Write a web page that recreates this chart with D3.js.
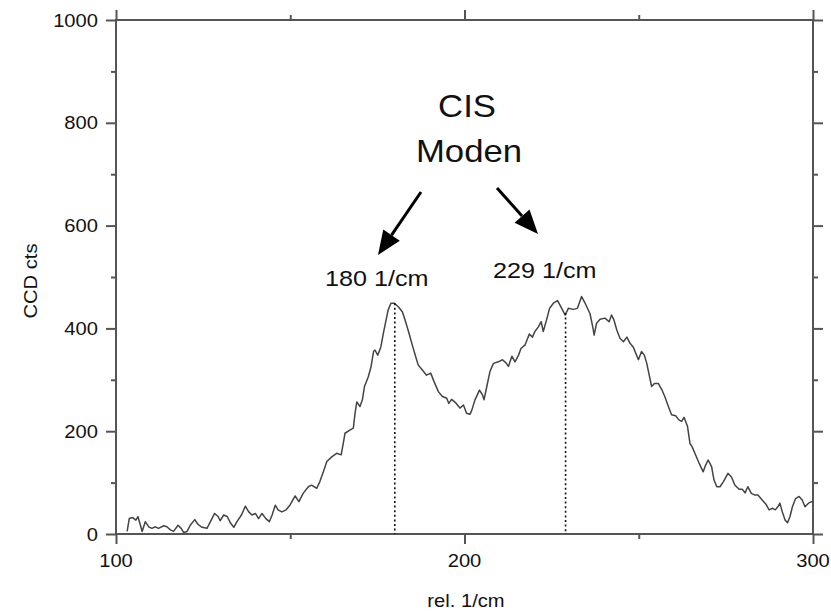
<!DOCTYPE html>
<html>
<head>
<meta charset="utf-8">
<script src="https://cdn.jsdelivr.net/npm/d3@7"></script>
<style>
  html, body { margin: 0; padding: 0; background: #fff; }
  svg { display: block; font-family: "Liberation Sans", Arial, sans-serif; }
</style>
</head>
<body>
<svg id="chart" width="831" height="613"></svg>
<script>
// raman shift (rel. 1/cm) and CCD counts
var shifts = [
  103.2, 103.8, 104.8, 105.7, 106.3, 107.0, 107.5, 108.4, 109.4, 110.3,
  111.3, 112.2, 113.7, 114.6, 115.6, 116.5, 117.8, 118.7, 119.4, 120.4,
  121.3, 122.6, 123.5, 124.7, 126.1, 127.1, 128.3, 129.3, 129.9, 130.9,
  131.9, 132.8, 133.8, 134.7, 136.0, 137.1, 138.1, 139.0, 140.0, 140.9,
  141.9, 143.0, 144.0, 144.8, 145.7, 146.5, 147.6, 148.8, 149.9, 151.4,
  152.5, 153.7, 155.2, 156.1, 157.6, 158.5, 159.5, 160.5, 161.9, 163.3,
  164.6, 165.2, 165.7, 167.1, 168.1, 168.6, 169.1, 170.0, 170.7, 171.3,
  172.4, 173.2, 173.9, 174.3, 175.1, 176.0, 176.7, 177.4, 178.1, 178.9,
  179.9, 181.0, 182.2, 183.1, 184.1, 185.0, 186.0, 186.7, 187.9, 189.1,
  190.3, 191.3, 192.5, 193.6, 194.9, 195.5, 196.3, 197.5, 198.7, 199.7,
  200.6, 201.6, 202.1, 203.0, 204.3, 205.2, 205.6, 206.4, 207.3, 208.3,
  209.7, 210.9, 211.9, 212.6, 213.6, 214.5, 215.5, 216.2, 217.4, 218.6,
  219.5, 220.2, 221.2, 222.0, 222.6, 223.8, 224.4, 225.5, 226.7, 227.9,
  228.9, 229.8, 231.2, 232.4, 233.6, 234.6, 236.0, 236.8, 237.2, 237.9,
  238.9, 240.3, 241.5, 242.2, 242.9, 243.7, 244.6, 245.6, 246.6, 247.5,
  248.4, 249.9, 250.8, 251.6, 252.3, 253.0, 253.7, 254.5, 255.6, 256.6,
  257.5, 258.5, 259.4, 260.6, 261.5, 262.3, 263.0, 264.0, 264.7, 265.3,
  266.1, 267.3, 268.5, 269.0, 269.9, 270.9, 271.6, 272.4, 273.3, 274.3,
  275.6, 276.6, 277.6, 278.8, 279.7, 280.5, 281.3, 282.3, 283.2, 284.2,
  285.3, 286.5, 287.4, 288.4, 289.2, 289.9, 290.5, 291.2, 292.0, 292.7,
  293.4, 294.1, 295.0, 296.0, 296.9, 297.7, 298.7, 299.6, 300.0
];
var counts = [
  5, 30, 32, 27, 34, 17, 5, 24, 14, 11,
  14, 11, 16, 14, 8, 5, 17, 11, 3, 5,
  17, 28, 19, 13, 11, 24, 40, 34, 26, 37,
  34, 22, 13, 24, 37, 54, 43, 37, 40, 30,
  40, 30, 24, 37, 56, 47, 43, 47, 56, 74,
  63, 79, 92, 95, 89, 102, 121, 141, 150, 157,
  154, 176, 196, 202, 206, 235, 257, 248, 261, 287,
  306, 326, 355, 358, 348, 364, 390, 413, 436, 449,
  449, 442, 432, 413, 390, 368, 345, 329, 319, 309,
  313, 296, 277, 268, 264, 254, 262, 255, 245, 251,
  235, 233, 241, 261, 280, 270, 261, 287, 316, 332,
  335, 339, 333, 326, 346, 335, 348, 361, 368, 389,
  383, 394, 403, 413, 394, 423, 439, 449, 454, 439,
  426, 439, 437, 439, 462, 449, 429, 403, 387, 410,
  418, 420, 413, 426, 416, 397, 381, 374, 383, 371,
  364, 339, 355, 348, 332, 309, 287, 293, 293, 281,
  267, 248, 232, 230, 222, 219, 227, 209, 176, 170,
  157, 138, 121, 131, 144, 131, 105, 92, 92, 102,
  118, 111, 95, 87, 87, 80, 92, 79, 76, 76,
  67, 58, 47, 50, 47, 53, 60, 43, 27, 22,
  34, 53, 69, 73, 66, 53, 60, 63, 62
];

var xTicks = [100, 200, 300];
var xMinor = [150, 250];
var yTicks = [0, 200, 400, 600, 800, 1000];
var yMinor = [100, 300, 500, 700, 900];

// marked modes
var modePos = [180, 229];
var modeTop = [449, 430];
var modeLabels = ["180 1/cm", "229 1/cm"];

var svg = d3.select("#chart");
var x = d3.scaleLinear().domain([100, 300]).range([116, 813]);
var y = d3.scaleLinear().domain([0, 1000]).range([534, 20]);
var frameCol = "#555";
var SX = 1.12; // text in the picture is a little wide

function label(px, py, txt, size, anchor, rot) {
  return svg.append("text")
    .attr("transform", "translate(" + px + "," + py + ")" + (rot ? " rotate(" + rot + ")" : "") + " scale(" + SX + ",1)")
    .attr("text-anchor", anchor || "middle")
    .attr("font-size", size)
    .attr("fill", "#111")
    .text(txt);
}

// ticks
function tickAxis(axis, vals, size, tr) {
  var g = svg.append("g").attr("transform", tr)
    .call(axis.tickValues(vals).tickSize(size).tickFormat(""));
  g.select(".domain").remove();
  g.selectAll("line").attr("stroke", frameCol).attr("stroke-width", 2);
}
tickAxis(d3.axisLeft(y), yTicks, 10, "translate(116,0)");
tickAxis(d3.axisLeft(y), yMinor, 5, "translate(116,0)");
tickAxis(d3.axisLeft(y), yTicks, -10, "translate(813,0)");
tickAxis(d3.axisLeft(y), yMinor, -5, "translate(813,0)");
tickAxis(d3.axisBottom(x), xTicks, 10, "translate(0,534)");
tickAxis(d3.axisBottom(x), xMinor, 5, "translate(0,534)");
tickAxis(d3.axisBottom(x), xTicks, -10, "translate(0,20)");
tickAxis(d3.axisBottom(x), xMinor, -5, "translate(0,20)");

// frame
svg.append("rect")
  .attr("x", x(100)).attr("y", y(1000))
  .attr("width", x(300) - x(100)).attr("height", y(0) - y(1000))
  .attr("fill", "none").attr("stroke", frameCol).attr("stroke-width", 2);

// tick labels
yTicks.forEach(function(v) {
  label(98, y(v) + 6.5, String(v), 18, "end");
});
xTicks.forEach(function(v) {
  label(x(v), 567, String(v), 18, "middle");
});

// axis titles
label(37, 281, "CCD cts", 18, "middle", -90);
label(466, 607, "rel. 1/cm", 18, "middle");

// spectrum
var line = d3.line()
  .x(function(d, i) { return x(shifts[i]); })
  .y(function(d) { return y(d); });
svg.append("path")
  .datum(counts)
  .attr("d", line)
  .attr("fill", "none")
  .attr("stroke", "#444")
  .attr("stroke-width", 1.5)
  .attr("stroke-linejoin", "round");

// dotted markers at mode positions
modePos.forEach(function(p, i) {
  svg.append("line")
    .attr("x1", x(p)).attr("x2", x(p))
    .attr("y1", y(modeTop[i])).attr("y2", y(0))
    .attr("stroke", "#111").attr("stroke-width", 1.6)
    .attr("stroke-dasharray", "2,2.6");
});

// annotation text
label(467, 117, "CIS", 31, "middle");
label(469, 162, "Moden", 31, "middle");
label(325, 286, modeLabels[0], 22.5, "start");
label(493, 278, modeLabels[1], 22.5, "start");

// arrows
function arrow(x1, y1, x2, y2) {
  var dx = x2 - x1, dy = y2 - y1, len = Math.sqrt(dx * dx + dy * dy);
  var ux = dx / len, uy = dy / len, hl = 24, hw = 10;
  var bx = x2 - ux * hl, by = y2 - uy * hl;
  svg.append("line")
    .attr("x1", x1).attr("y1", y1).attr("x2", bx).attr("y2", by)
    .attr("stroke", "#000").attr("stroke-width", 3);
  svg.append("polygon")
    .attr("points", [
      [x2, y2],
      [bx - uy * hw, by + ux * hw],
      [bx + uy * hw, by - ux * hw]
    ].map(function(p) { return p.join(","); }).join(" "))
    .attr("fill", "#000");
}
arrow(421, 192, 378, 255);
arrow(497, 188, 538, 234);
</script>
</body>
</html>
